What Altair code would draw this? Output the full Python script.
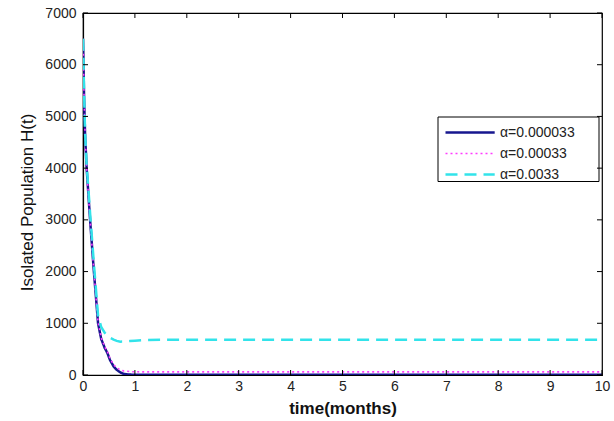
import altair as alt
import pandas as pd

# Time axis (months) and the isolated population H(t) for three alpha values
time = [0, 0.01, 0.02, 0.04, 0.07, 0.1, 0.14, 0.21, 0.29, 0.35, 0.42, 0.47, 0.52,
        0.59, 0.65, 0.72, 0.78, 0.9, 1.0, 1.2, 1.5, 2, 3, 4, 5, 6, 7, 8, 9, 10]
h_alpha_1 = [6500, 6000, 5400, 4650, 4000, 3550, 2950, 2000, 1000, 700, 520, 425, 290,
             165, 100, 50, 22, 8, 5, 4, 3, 3, 3, 3, 3, 3, 3, 3, 3, 3]
h_alpha_2 = [6500, 6000, 5400, 4650, 4000, 3550, 2950, 2000, 1020, 720, 545, 450, 320,
             200, 140, 100, 80, 66, 62, 60, 60, 60, 60, 60, 60, 60, 60, 60, 60, 60]
h_alpha_3 = [6500, 6050, 5500, 4700, 4050, 3650, 3080, 2150, 1150, 930, 815, 770, 720,
             685, 660, 645, 646, 656, 664, 675, 680, 682, 682, 682, 682, 682, 682, 682, 682, 682]

labels = ["α=0.000033", "α=0.00033", "α=0.0033"]
colors = ["#17178f", "#ff3cff", "#32e3ea"]
dashes = [[1, 0], [2, 3], [12, 7]]
widths = [2.5, 1.6, 2.5]

x_ticks = list(range(0, 11))
y_ticks = list(range(0, 7001, 1000))

rows = []
for lab, series in zip(labels, [h_alpha_1, h_alpha_2, h_alpha_3]):
    for t, h in zip(time, series):
        rows.append({"t": t, "H": h, "alpha": lab})
df = pd.DataFrame(rows)

W, H = 519, 362
xs = alt.Scale(domain=[0, 10], nice=False, zero=False)
ys = alt.Scale(domain=[0, 7000], nice=False)
FONT = "Liberation Sans"

lines = alt.Chart(df).mark_line(clip=True).encode(
    x=alt.X("t:Q", scale=xs,
            axis=alt.Axis(values=x_ticks, format="d", title="time(months)",
                          titleFontWeight="bold", titleY=33, titleBaseline="middle",
                          labelPadding=4, labelFlush=False)),
    y=alt.Y("H:Q", scale=ys,
            axis=alt.Axis(values=y_ticks, format="d", title="Isolated Population H(t)",
                          titleFontWeight="normal", titleX=-56, titleY=189,
                          titleBaseline="middle", labelPadding=7, labelFlush=False)),
    color=alt.Color("alpha:N", scale=alt.Scale(domain=labels, range=colors), title=None),
    strokeDash=alt.StrokeDash("alpha:N", scale=alt.Scale(domain=labels, range=dashes), title=None),
    strokeWidth=alt.StrokeWidth("alpha:N",
                                scale=alt.Scale(type="ordinal", domain=labels, range=widths),
                                title=None),
)

# Frame behind the legend entries
legend_box = alt.Chart().mark_rect(fill="white", stroke="black", strokeWidth=1).encode(
    x=alt.value(355), x2=alt.value(516), y=alt.value(104), y2=alt.value(168.5))

# Inward tick marks on all four sides of the box
xt = pd.DataFrame({"t": x_ticks})
yt = pd.DataFrame({"H": y_ticks})
tick_len = 5
bottom = alt.Chart(xt).mark_rule(color="black", strokeWidth=1).encode(
    x=alt.X("t:Q", scale=xs), y=alt.value(H), y2=alt.value(H - tick_len))
top = alt.Chart(xt).mark_rule(color="black", strokeWidth=1).encode(
    x=alt.X("t:Q", scale=xs), y=alt.value(0), y2=alt.value(tick_len))
left = alt.Chart(yt).mark_rule(color="black", strokeWidth=1).encode(
    y=alt.Y("H:Q", scale=ys), x=alt.value(0), x2=alt.value(tick_len))
right = alt.Chart(yt).mark_rule(color="black", strokeWidth=1).encode(
    y=alt.Y("H:Q", scale=ys), x=alt.value(W), x2=alt.value(W - tick_len))

chart = alt.layer(legend_box, lines, bottom, top, left, right).properties(
    width=W, height=H,
    padding={"left": 83, "top": 13, "right": 12, "bottom": 46},
    autosize=alt.AutoSizeParams(type="none"),
    background="white",
).configure_view(
    stroke="black", strokeWidth=1.2
).configure_axis(
    labelFont=FONT, labelFontSize=14, labelColor="#222222",
    titleFont=FONT, titleFontSize=17, titleColor="#111111",
    domainColor="black", domainWidth=1.2, ticks=False, grid=False,
).configure_legend(
    orient="none", legendX=357, legendY=108,
    padding=4, symbolType="M-1,0L7.2,0", symbolSize=144, rowPadding=6.5,
    labelFont=FONT, labelFontSize=14, labelColor="#222222", labelOffset=41,
)

chart.save("out.html", embed_options={"renderer": "svg", "actions": False})
